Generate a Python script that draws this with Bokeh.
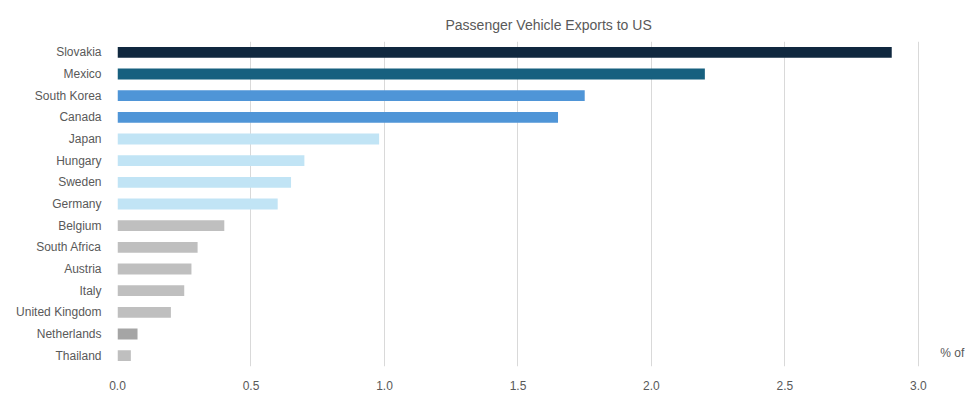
from bokeh.plotting import figure
from bokeh.models import ColumnDataSource, FixedTicker, NumeralTickFormatter, Range1d, FactorRange
from bokeh.core.properties import value
from bokeh.embed import file_html
from bokeh.resources import INLINE

countries = ["Slovakia", "Mexico", "South Korea", "Canada", "Japan", "Hungary", "Sweden",
             "Germany", "Belgium", "South Africa", "Austria", "Italy", "United Kingdom",
             "Netherlands", "Thailand"]
shares = [2.90, 2.20, 1.75, 1.65, 0.98, 0.70, 0.65, 0.60, 0.40, 0.30, 0.277, 0.25, 0.20, 0.075, 0.05]
colors = ["#10283f", "#17607f", "#4f95d7", "#4f95d7", "#c1e4f5", "#c1e4f5", "#c1e4f5",
          "#c1e4f5", "#bfbfbf", "#bfbfbf", "#bfbfbf", "#bfbfbf", "#bfbfbf", "#a5a5a5", "#bfbfbf"]
x_ticks = [0.0, 0.5, 1.0, 1.5, 2.0, 2.5, 3.0]
title_text = "Passenger Vehicle Exports to US"
unit_text = "% of"

FONT = "Liberation Sans"
GREY = "#595959"

src = ColumnDataSource(dict(country=countries, share=shares, color=colors))

p = figure(width=970, height=405, output_backend="svg", toolbar_location=None,
           y_range=FactorRange(*reversed(countries), range_padding=0),
           x_range=Range1d(0, 3.195),
           min_border_left=117, min_border_right=0, min_border_top=41, min_border_bottom=39)

p.hbar(y="country", right="share", left=0, height=0.5, color="color", source=src, line_color=None)

p.text(x=[3.082], y=[countries[-1]], text=[unit_text], text_font=value(FONT),
       text_font_size="12px", text_color=GREY, text_align="left", text_baseline="middle",
       y_offset=-3)

p.title.text = title_text
p.title.align = "left"
p.title.text_font = FONT
p.title.text_font_size = "14px"
p.title.text_font_style = "normal"
p.title.text_color = GREY
p.title.offset = 328
p.title.standoff = 18

p.outline_line_color = None
p.background_fill_color = "white"
p.border_fill_color = "white"

p.xaxis.ticker = FixedTicker(ticks=x_ticks)
p.xaxis.formatter = NumeralTickFormatter(format="0.0")
p.xaxis.axis_line_color = None
p.xaxis.major_tick_line_color = None
p.xaxis.minor_tick_line_color = None
p.xaxis.major_tick_out = 0
p.xaxis.major_label_standoff = 14
p.xaxis.major_label_text_font = FONT
p.xaxis.major_label_text_font_size = "12px"
p.xaxis.major_label_text_color = GREY

p.yaxis.axis_line_color = None
p.yaxis.major_tick_line_color = None
p.yaxis.major_tick_out = 0
p.yaxis.major_label_standoff = 16
p.yaxis.major_label_text_font = FONT
p.yaxis.major_label_text_font_size = "12px"
p.yaxis.major_label_text_color = GREY

p.ygrid.grid_line_color = None
p.xgrid.grid_line_color = "#d9d9d9"
p.xgrid.grid_line_width = 1

open("out.html", "w").write(file_html(p, INLINE))
